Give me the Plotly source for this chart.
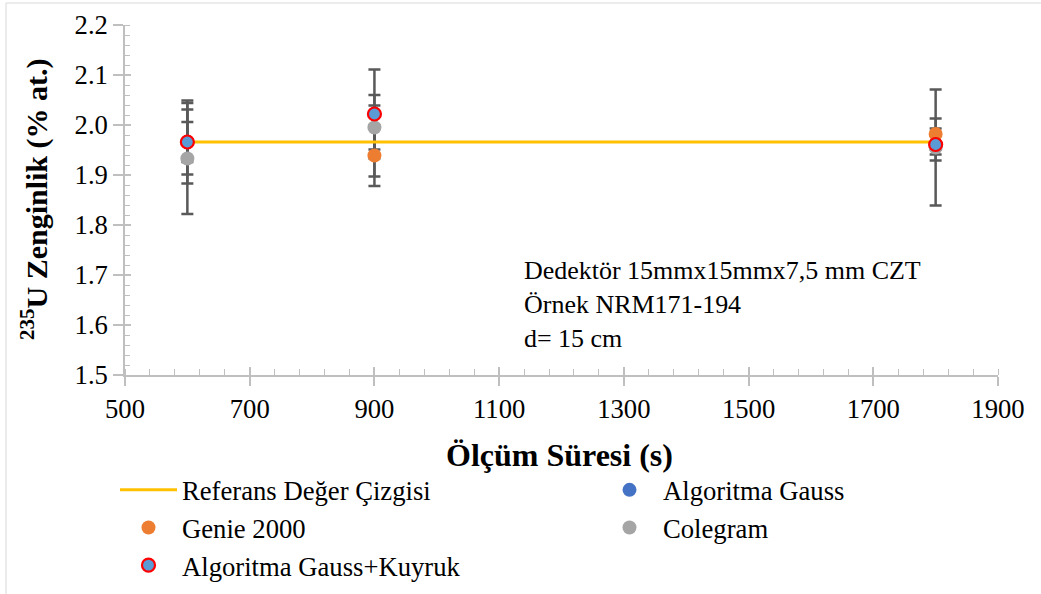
import plotly.graph_objects as go

# ---- data ----
olcum_suresi = [600, 900, 1800]
referans = [1.966, 1.966, 1.966]

genie = [1.966, 1.939, 1.982]
genie_err = [0.083, 0.061, 0.031]
genie_err_minus = [0.083, 0.061, 0.031]

gauss = [1.966, 2.022, 1.961]
gauss_err = [0.065, 0.038, 0.020]
gauss_err_minus = [0.065, 0.125, 0.020]

colegram = [1.933, 1.995, 1.955]
colegram_err = [0.111, 0.044, 0.116]
colegram_err_minus = [0.111, 0.044, 0.116]

gk = [1.966, 2.022, 1.961]
gk_err = [0.040, 0.089, 0.032]
gk_err_minus = [0.040, 0.089, 0.032]

x_title = "Ölçüm Süresi (s)"
y_title = "<sup>235</sup>U Zenginlik (% at.)"
info_text = "Dedektör 15mmx15mmx7,5 mm CZT<br>Örnek NRM171-194<br>d= 15 cm"

FONT = "Liberation Serif"
FS = 26.67
ERR_COLOR = "#595959"

fig = go.Figure()

# error bars first so every marker sits above them
for vals, ep, em in [(genie, genie_err, genie_err_minus),
                     (colegram, colegram_err, colegram_err_minus),
                     (gauss, gauss_err, gauss_err_minus),
                     (gk, gk_err, gk_err_minus)]:
    fig.add_trace(go.Scatter(
        x=olcum_suresi, y=vals, mode="markers",
        marker=dict(size=1, color="rgba(0,0,0,0)"),
        error_y=dict(type="data", array=ep, arrayminus=em, symmetric=False,
                     color=ERR_COLOR, thickness=2.5, width=6),
        showlegend=False, hoverinfo="skip"))

fig.add_trace(go.Scatter(
    x=olcum_suresi, y=referans, mode="lines", name="Referans Değer Çizgisi",
    line=dict(color="#FFC000", width=3), legend="legend", legendrank=1))
fig.add_trace(go.Scatter(
    x=olcum_suresi, y=genie, mode="markers", name="Genie 2000",
    marker=dict(size=14, color="#ED7D31"), legend="legend", legendrank=2))
fig.add_trace(go.Scatter(
    x=olcum_suresi, y=colegram, mode="markers", name="Colegram",
    marker=dict(size=14, color="#A5A5A5"), legend="legend2", legendrank=2))
fig.add_trace(go.Scatter(
    x=olcum_suresi, y=gauss, mode="markers", name="Algoritma Gauss",
    marker=dict(size=14, color="#4472C4"), legend="legend2", legendrank=1))
fig.add_trace(go.Scatter(
    x=olcum_suresi, y=gk, mode="markers", name="Algoritma Gauss+Kuyruk",
    marker=dict(size=13, color="#5B9BD5", line=dict(color="#FF0000", width=2.2)),
    legend="legend", legendrank=3))

axis_line = "#BFBFBF"
legend_common = dict(
    orientation="v", yanchor="top", xanchor="left", itemwidth=57,
    font=dict(family=FONT, size=FS, color="black"),
    bgcolor="rgba(0,0,0,0)", traceorder="normal", tracegroupgap=0,
)

fig.update_layout(
    width=1041, height=594,
    margin=dict(l=125, r=43, t=25, b=219, autoexpand=False),
    paper_bgcolor="white", plot_bgcolor="white",
    font=dict(family=FONT, color="black", size=FS),
    xaxis=dict(
        range=[500, 1900], dtick=200, tick0=500, showgrid=False, zeroline=False,
        showline=True, linecolor=axis_line, linewidth=1.5,
        ticks="outside", ticklen=9, tickcolor=axis_line, tickwidth=1.5,
        tickfont=dict(family=FONT, size=FS, color="black"),
        minor=dict(dtick=40, tick0=500, ticks="inside", ticklen=6,
                   tickcolor=axis_line, tickwidth=1.2, showgrid=False),
    ),
    yaxis=dict(
        range=[1.5, 2.2], dtick=0.1, tick0=1.5, tickformat=".1f",
        showgrid=False, zeroline=False,
        showline=True, linecolor=axis_line, linewidth=1.5,
        ticks="outside", ticklen=10, tickcolor=axis_line, tickwidth=1.5,
        tickfont=dict(family=FONT, size=FS, color="black"),
        minor=dict(dtick=0.02, tick0=1.5, ticks="inside", ticklen=5,
                   tickcolor=axis_line, tickwidth=1.2, showgrid=False),
    ),
    xaxis2=dict(range=[500, 1900], dtick=200, tick0=500, overlaying="x",
                side="bottom", anchor="y", showgrid=False, zeroline=False,
                showticklabels=False, ticks="inside", ticklen=8,
                tickcolor=axis_line, tickwidth=1.5, showline=False),
    yaxis2=dict(range=[1.5, 2.2], dtick=0.1, tick0=1.5, overlaying="y",
                side="left", anchor="x", showgrid=False, zeroline=False,
                showticklabels=False, ticks="inside", ticklen=6,
                tickcolor=axis_line, tickwidth=1.5, showline=False),
    legend=dict(x=(115 - 125) / 873, y=(375 - 466) / 350, **legend_common),
    legend2=dict(x=(596 - 125) / 873, y=(375 - 466) / 350, **legend_common),
    annotations=[
        dict(xref="paper", yref="paper", x=(522 - 125) / 873, y=(375 - 254) / 350,
             xanchor="left", yanchor="top", align="left", showarrow=False,
             text=info_text, font=dict(family=FONT, size=FS - 0.7, color="black")),
        dict(xref="paper", yref="paper", x=(559 - 125) / 873, y=(375 - 455) / 350,
             xanchor="center", yanchor="middle", showarrow=False,
             text="<b>" + x_title + "</b>",
             font=dict(family=FONT, size=32, color="black")),
        dict(xref="paper", yref="paper", x=(34 - 125) / 873, y=(375 - 199) / 350,
             xanchor="center", yanchor="middle", showarrow=False, textangle=-90,
             text="<b>" + y_title + "</b>",
             font=dict(family=FONT, size=30, color="black")),
    ],
    shapes=[dict(type="rect", xref="paper", yref="paper",
                 x0=(6 - 125) / 873, x1=(1060 - 125) / 873,
                 y0=(375 - 620) / 350, y1=(375 - 3) / 350,
                 line=dict(color="#D9D9D9", width=1), fillcolor="rgba(0,0,0,0)",
                 layer="below")],
    showlegend=True,
)

fig.add_trace(go.Scatter(x=[None], y=[None], xaxis="x2", yaxis="y2",
                         showlegend=False, hoverinfo="skip"))

fig.write_html("out.html")
